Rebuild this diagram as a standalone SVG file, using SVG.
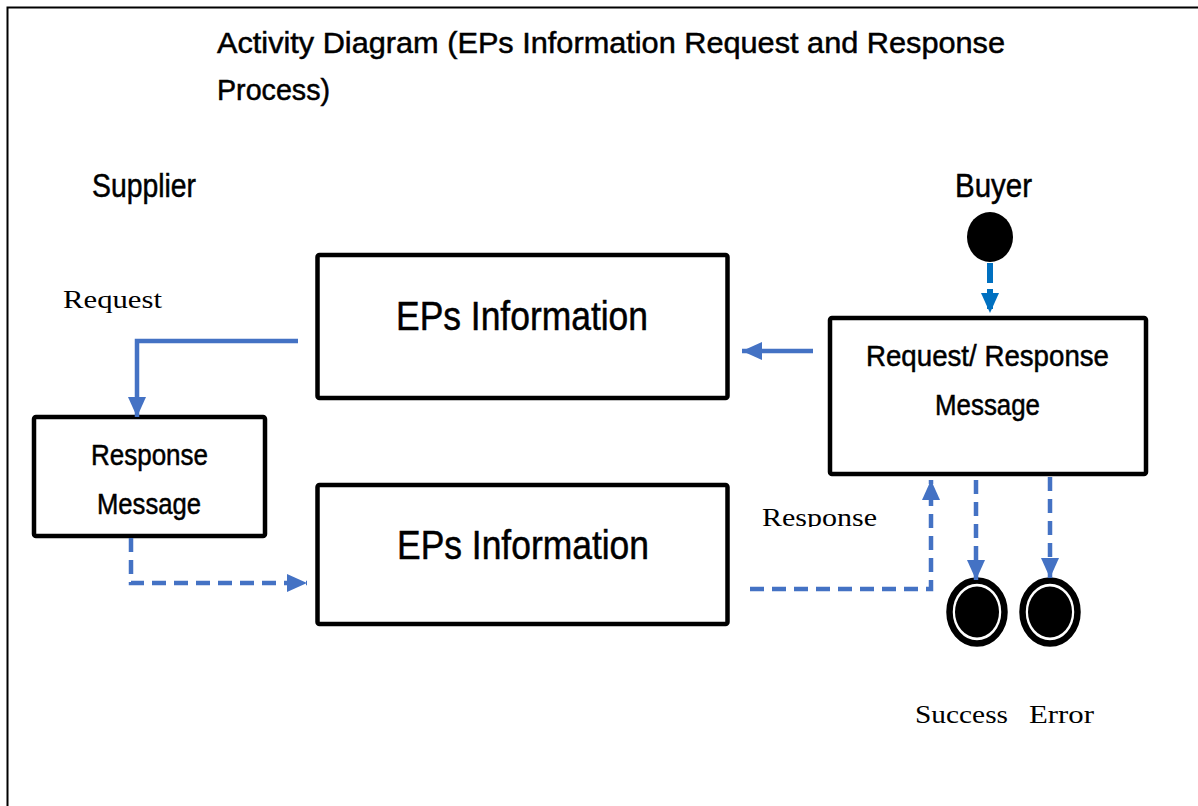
<svg xmlns="http://www.w3.org/2000/svg" width="1198" height="806" viewBox="0 0 1198 806">
<style>
.box{fill:#fff;stroke:#000;stroke-width:4.5}
.g{font-family:"Liberation Sans",Arial,sans-serif;fill:#000;stroke:#000;stroke-width:0.5}
.s{font-family:"Liberation Serif","Times New Roman",serif;fill:#000}
.c{fill:none;stroke:#4472C4;stroke-width:4.5}
.d{stroke-dasharray:14 8}
</style>
<defs>
<marker id="ah" markerUnits="userSpaceOnUse" viewBox="0 0 20 18" markerWidth="20" markerHeight="18" refX="20" refY="9" orient="auto">
<path d="M0,0 L20,9 L0,18 z" fill="#4472C4"/>
</marker>
<marker id="ah2" markerUnits="userSpaceOnUse" viewBox="0 0 20 18" markerWidth="20" markerHeight="18" refX="20" refY="9" orient="auto">
<path d="M0,0 L20,9 L0,18 z" fill="#0070C0"/>
</marker>
<clipPath id="clipResp"><rect x="700" y="480" width="200" height="47"/></clipPath>
</defs>
<rect width="1198" height="806" fill="#fff"/>
<path d="M7.5,806 L7.5,7.5 L1198,7.5" fill="none" stroke="#000" stroke-width="2"/>
<g id="title" class="g" font-size="30">
<text x="217" y="53" textLength="788" lengthAdjust="spacingAndGlyphs">Activity Diagram (EPs Information Request and Response</text>
<text x="217" y="100" textLength="113" lengthAdjust="spacingAndGlyphs">Process)</text>
</g>
<g id="lane-supplier"><text class="g" x="92" y="197" font-size="34" textLength="104" lengthAdjust="spacingAndGlyphs">Supplier</text></g>
<g id="lane-buyer"><text class="g" x="955" y="197" font-size="34" textLength="77" lengthAdjust="spacingAndGlyphs">Buyer</text></g>
<g id="start"><ellipse cx="990" cy="237" rx="23" ry="25" fill="#000"/></g>
<g id="eps-top">
<rect class="box" x="317.5" y="255" width="410" height="143" rx="2"/>
<text class="g" x="396" y="330" font-size="40" textLength="252" lengthAdjust="spacingAndGlyphs">EPs Information</text>
</g>
<g id="eps-bottom">
<rect class="box" x="317.5" y="485" width="410" height="139" rx="2"/>
<text class="g" x="397" y="559" font-size="40" textLength="252" lengthAdjust="spacingAndGlyphs">EPs Information</text>
</g>
<g id="req-resp">
<rect class="box" x="830" y="318" width="316" height="156" rx="2"/>
<text class="g" x="866" y="366" font-size="30" textLength="243" lengthAdjust="spacingAndGlyphs">Request/ Response</text>
<text class="g" x="935" y="415" font-size="30" textLength="105" lengthAdjust="spacingAndGlyphs">Message</text>
</g>
<g id="resp-msg">
<rect class="box" x="34" y="417" width="231" height="119" rx="2"/>
<text class="g" x="91" y="465" font-size="30" textLength="117" lengthAdjust="spacingAndGlyphs">Response</text>
<text class="g" x="97" y="514" font-size="30" textLength="104" lengthAdjust="spacingAndGlyphs">Message</text>
</g>
<g id="end-success">
<ellipse cx="977" cy="612" rx="27.5" ry="31.5" fill="#fff" stroke="#000" stroke-width="6.5"/>
<ellipse cx="977" cy="612" rx="22" ry="25.5" fill="#000"/>
</g>
<g id="end-error">
<ellipse cx="1050" cy="612" rx="27.5" ry="31.5" fill="#fff" stroke="#000" stroke-width="6.5"/>
<ellipse cx="1050" cy="612" rx="22" ry="25.5" fill="#000"/>
</g>
<g id="connectors">
<path d="M990,263 L990,313" fill="none" stroke="#0070C0" stroke-width="6" stroke-dasharray="20 6" marker-end="url(#ah2)"/>
<path class="c" d="M298,341 L137,341 L137,417" marker-end="url(#ah)"/>
<path class="c" d="M813,351 L742,351" marker-end="url(#ah)"/>
<path class="c d" d="M131,538 L131,583 L307,583" marker-end="url(#ah)"/>
<path class="c d" d="M750,589 L931,589 L931,480" marker-end="url(#ah)"/>
<path class="c d" d="M976,480 L976,580" marker-end="url(#ah)"/>
<path class="c d" d="M1050,477 L1050,578" marker-end="url(#ah)"/>
</g>
<g id="labels" class="s" font-size="26">
<text x="63" y="308" textLength="99" lengthAdjust="spacingAndGlyphs">Request</text>
<text x="762" y="526" textLength="115" lengthAdjust="spacingAndGlyphs" clip-path="url(#clipResp)">Response</text>
<text x="915" y="723" textLength="93" lengthAdjust="spacingAndGlyphs">Success</text>
<text x="1029" y="723" textLength="65" lengthAdjust="spacingAndGlyphs">Error</text>
</g>
</svg>
